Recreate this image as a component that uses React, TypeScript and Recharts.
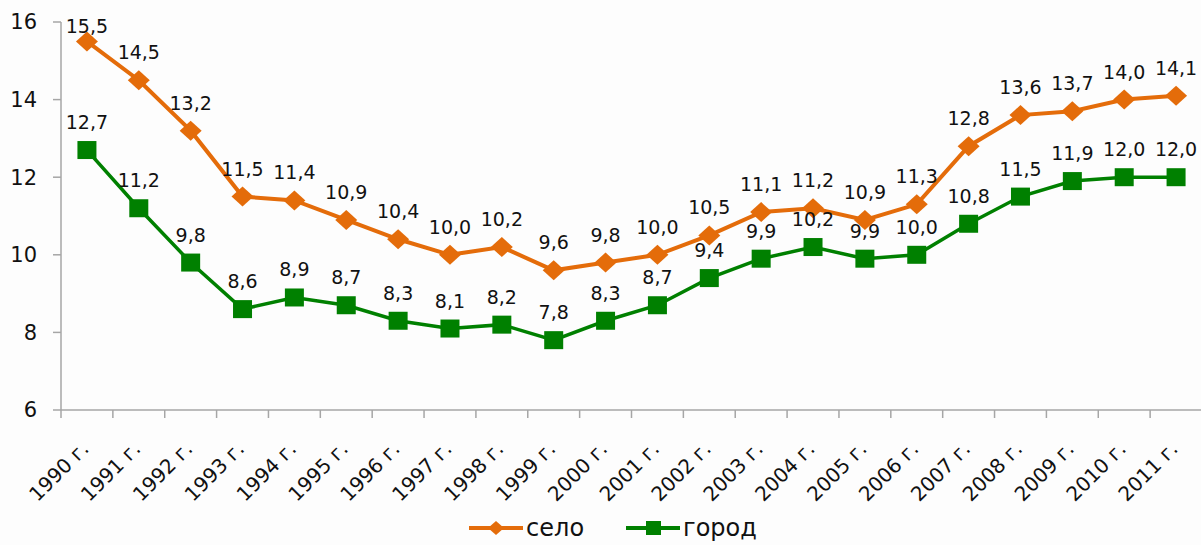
import { LineChart, Line, XAxis, YAxis, Legend, LabelList } from "recharts";

const years = [
  "1990 г.", "1991 г.", "1992 г.", "1993 г.", "1994 г.", "1995 г.", "1996 г.", "1997 г.",
  "1998 г.", "1999 г.", "2000 г.", "2001 г.", "2002 г.", "2003 г.", "2004 г.", "2005 г.",
  "2006 г.", "2007 г.", "2008 г.", "2009 г.", "2010 г.", "2011 г.",
];
const selo = [15.5, 14.5, 13.2, 11.5, 11.4, 10.9, 10.4, 10.0, 10.2, 9.6, 9.8, 10.0, 10.5, 11.1, 11.2, 10.9, 11.3, 12.8, 13.6, 13.7, 14.0, 14.1];
const gorod = [12.7, 11.2, 9.8, 8.6, 8.9, 8.7, 8.3, 8.1, 8.2, 7.8, 8.3, 8.7, 9.4, 9.9, 10.2, 9.9, 10.0, 10.8, 11.5, 11.9, 12.0, 12.0];
const yTicks = [6, 8, 10, 12, 14, 16];
const seriesOrder = ["selo", "gorod"];

const data = years.map((year, i) => ({ year, selo: selo[i], gorod: gorod[i] }));

const ORANGE = "#E46C0A";
const GREEN = "#008000";
const AXIS = "#a6a6a6";
const FONT = "'DejaVu Sans', sans-serif";

const CHART_W = 1210;
const Y_AXIS_W = 61;
const MARGIN = { top: 22, right: 8, left: 0, bottom: 0 };
const BAND = (CHART_W - MARGIN.left - MARGIN.right - Y_AXIS_W) / years.length;

const fmt = (v: any) => Number(v).toFixed(1).replace(".", ",");

function Diamond({ cx, cy, fill }: any) {
  if (cx == null || cy == null) return null;
  return <path d={`M${cx},${cy - 10} L${cx + 11},${cy} L${cx},${cy + 10} L${cx - 11},${cy} Z`} fill={fill} />;
}

function Square({ cx, cy, fill }: any) {
  if (cx == null || cy == null) return null;
  return <rect x={cx - 9.5} y={cy - 9} width={19} height={18} fill={fill} />;
}

// value label above the point, kept inside the top of the chart like Excel does
function ValueLabel({ x, y, width, value }: any) {
  const cx = x + (width || 0) / 2;
  const base = Math.max(y - 21, 33);
  return (
    <text x={cx} y={base} textAnchor="middle" fontFamily={FONT} fontSize={19} fill="#111">
      {fmt(value)}
    </text>
  );
}

function YearTick({ x, y, payload, index }: any) {
  const last = index === years.length - 1;
  const ax = x + 3;
  const ay = y + 40;
  return (
    <g>
      <line x1={x - BAND / 2} x2={x - BAND / 2} y1={y} y2={y + 8} stroke={AXIS} strokeWidth={1.5} />
      {last && <line x1={x + BAND / 2} x2={x + BAND / 2} y1={y} y2={y + 8} stroke={AXIS} strokeWidth={1.5} />}
      <text
        x={ax}
        y={ay}
        textAnchor="end"
        transform={`rotate(-45, ${ax}, ${ay})`}
        fontFamily={FONT}
        fontSize={20}
        fill="#111"
      >
        {payload.value}
      </text>
    </g>
  );
}

function LegendContent({ payload }: any) {
  const items = [...(payload || [])].sort(
    (a: any, b: any) => seriesOrder.indexOf(a.dataKey) - seriesOrder.indexOf(b.dataKey)
  );
  return (
    <div style={{ display: "flex", justifyContent: "center", gap: 42, paddingTop: 26, paddingLeft: 24 }}>
      {items.map((p: any) => (
        <div key={p.dataKey} style={{ display: "flex", alignItems: "center" }}>
          <svg width={54} height={22}>
            <line x1={0} x2={54} y1={11} y2={11} stroke={p.color} strokeWidth={4} />
            {p.dataKey === "selo" ? (
              <path d="M27,4 L35,11 L27,18 L19,11 Z" fill={p.color} />
            ) : (
              <rect x={20} y={4} width={15} height={14} fill={p.color} />
            )}
          </svg>
          <span style={{ fontFamily: FONT, fontSize: 24, color: "#111", marginLeft: 3, lineHeight: "24px" }}>{p.value}</span>
        </div>
      ))}
    </div>
  );
}

export default function App() {
  return (
    <div style={{ position: "absolute", left: 0, top: 0, width: 1201, height: 545, overflow: "hidden", background: "#fdfdfd" }}>
      <LineChart width={CHART_W} height={545} data={data} margin={MARGIN}>
        <XAxis
          dataKey="year"
          scale="band"
          height={80}
          interval={0}
          stroke={AXIS}
          strokeWidth={1.5}
          tickLine={false}
          tickSize={0}
          tickMargin={0}
          tick={<YearTick />}
        />
        <YAxis
          width={Y_AXIS_W}
          domain={[6, 16]}
          ticks={yTicks}
          interval={0}
          stroke={AXIS}
          strokeWidth={1.5}
          tickSize={8}
          tickMargin={16}
          tick={{ fontFamily: FONT, fontSize: 21, fill: "#111" }}
        />
        <Legend verticalAlign="bottom" height={55} content={<LegendContent />} />
        <Line
          dataKey="selo"
          name="село"
          stroke={ORANGE}
          strokeWidth={4}
          dot={<Diamond fill={ORANGE} />}
          isAnimationActive={false}
        >
          <LabelList dataKey="selo" content={<ValueLabel />} />
        </Line>
        <Line
          dataKey="gorod"
          name="город"
          stroke={GREEN}
          strokeWidth={3.5}
          dot={<Square fill={GREEN} />}
          isAnimationActive={false}
        >
          <LabelList dataKey="gorod" content={<ValueLabel />} />
        </Line>
      </LineChart>
    </div>
  );
}
